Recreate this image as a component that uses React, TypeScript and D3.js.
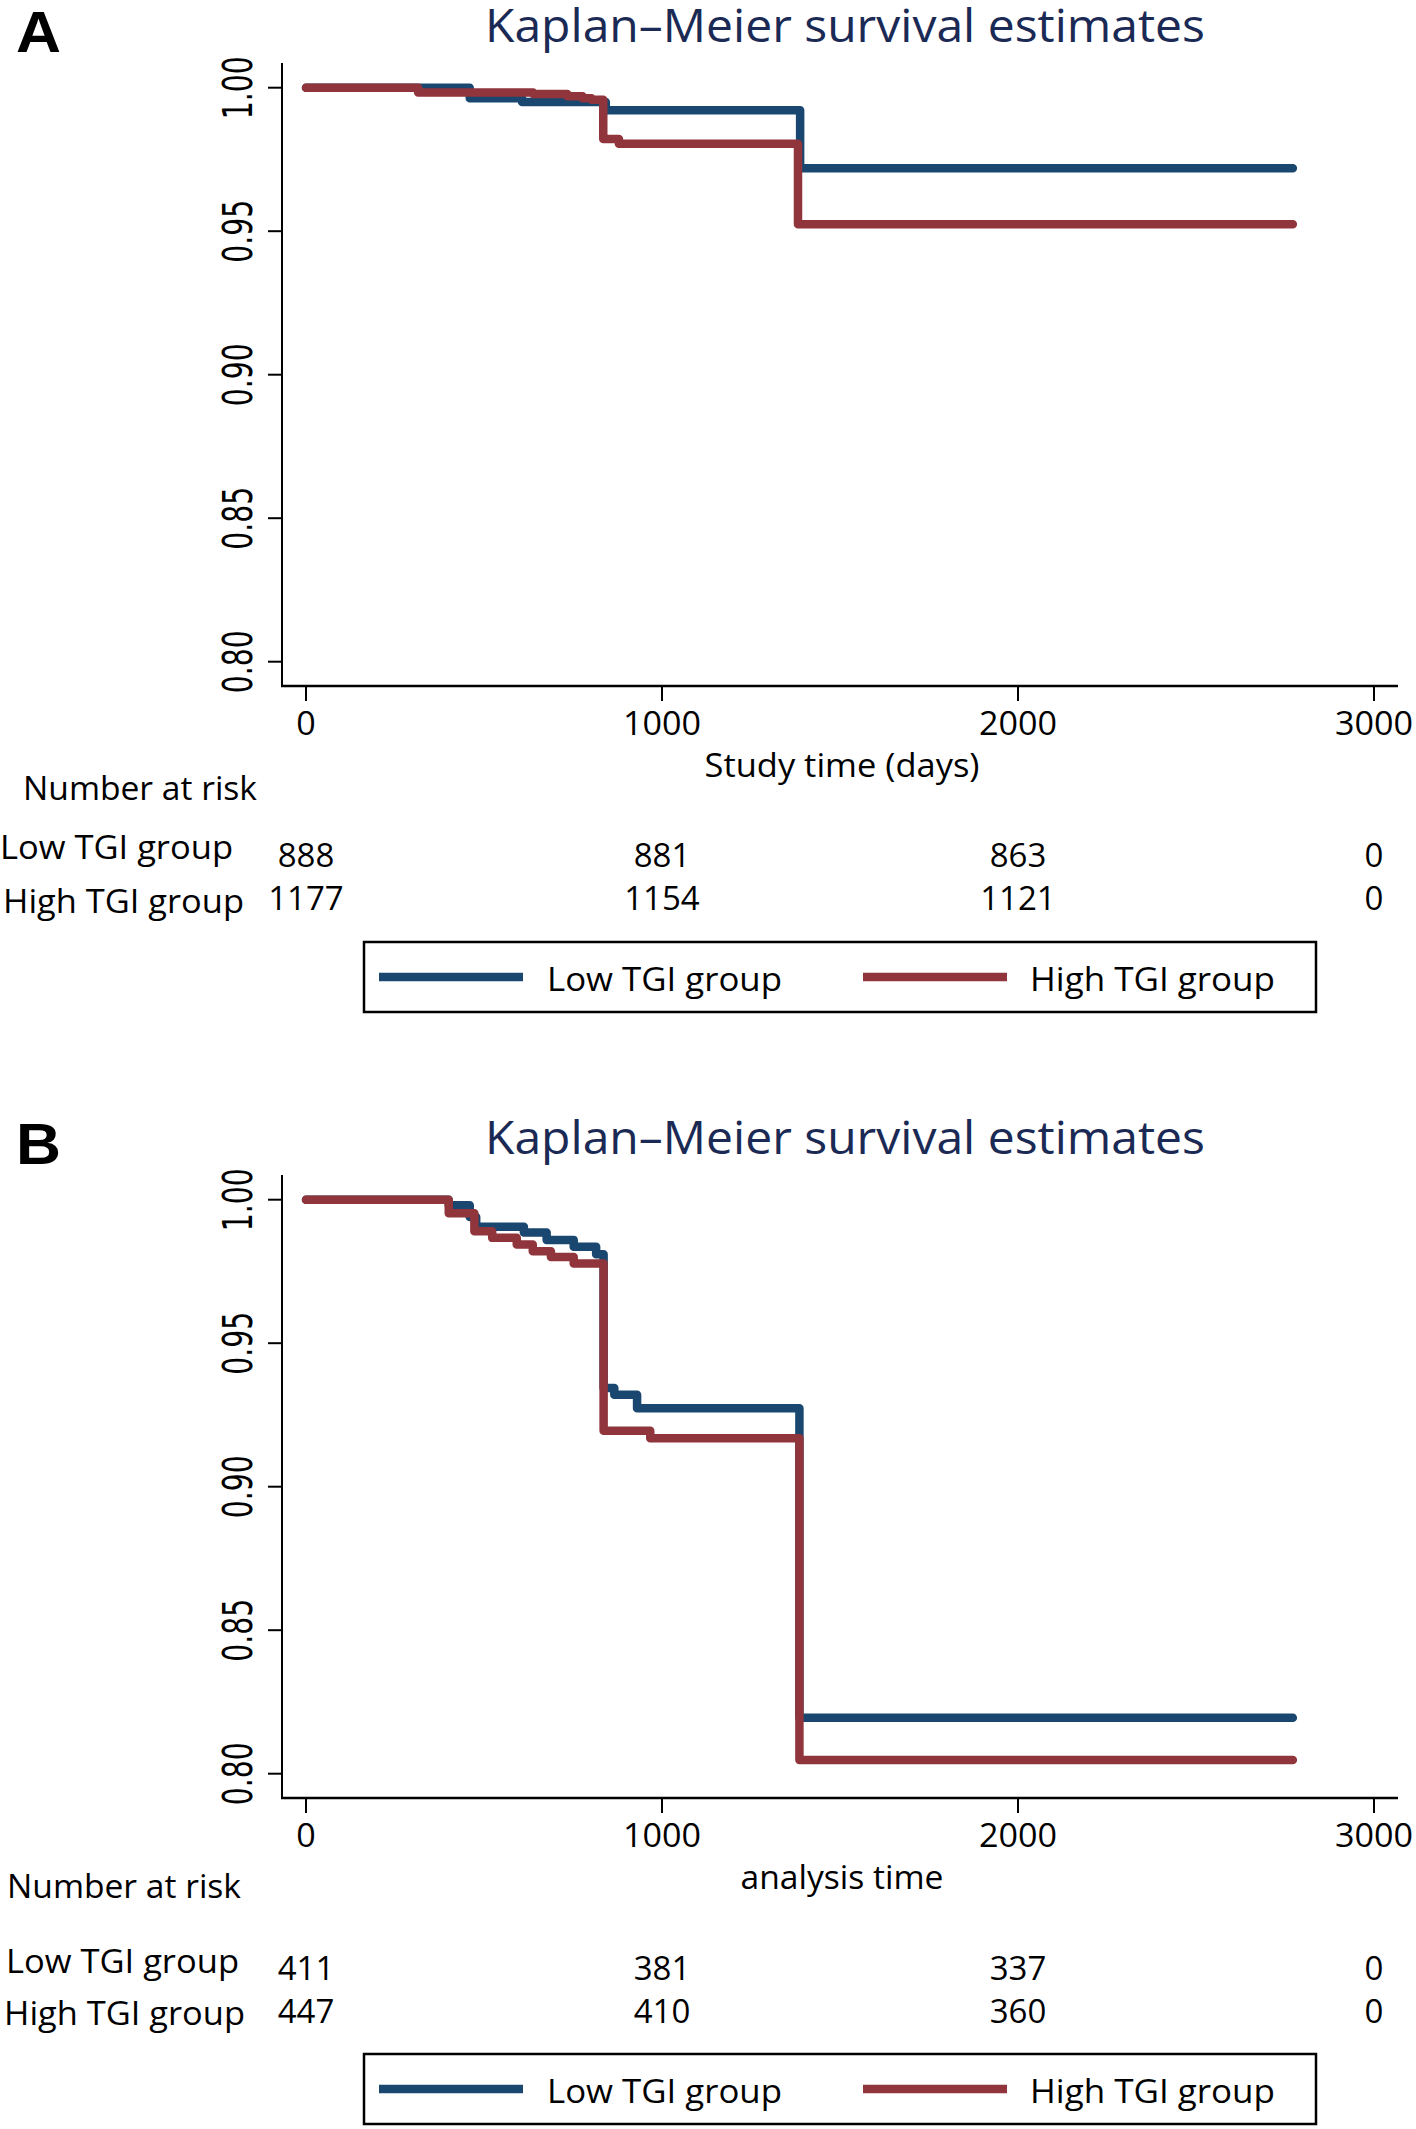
import React from "react";
import * as d3 from "d3";

// ---------- data ----------
const timeTicks = [0, 1000, 2000, 3000];
const survTicks = [0.8, 0.85, 0.9, 0.95, 1.0];
const groupNames = ["Low TGI group", "High TGI group"];

// Panel A
const aLowTime = [0, 460, 607, 842, 1388, 2772];
const aLowSurv = [1.0, 0.9963, 0.995, 0.9921, 0.9719, 0.9719];
const aHighTime = [0, 315, 638, 734, 777, 802, 835, 879, 1382, 2772];
const aHighSurv = [1.0, 0.9983, 0.9978, 0.997, 0.9963, 0.9958, 0.9821, 0.9805, 0.9524, 0.9524];
const aRiskLow = [888, 881, 863, 0];
const aRiskHigh = [1177, 1154, 1121, 0];

// Panel B
const bLowTime = [0, 401, 460, 478, 612, 676, 752, 815, 836, 866, 930, 1386, 2772];
const bLowSurv = [1.0, 0.9981, 0.994, 0.9906, 0.9886, 0.986, 0.9836, 0.981, 0.9344, 0.932, 0.9273, 0.8195, 0.8195];
const bHighTime = [0, 401, 473, 523, 592, 637, 688, 752, 836, 967, 1386, 2772];
const bHighSurv = [1.0, 0.9953, 0.989, 0.9867, 0.9844, 0.982, 0.98, 0.9778, 0.9195, 0.9169, 0.8048, 0.8048];
const bRiskLow = [411, 381, 337, 0];
const bRiskHigh = [447, 410, 360, 0];

const TITLE = "Kaplan\u2013Meier survival estimates";
const RISK_TITLE = "Number at risk";

const BLUE = "#1a476f";
const RED = "#90353b";
const NAVY = "#1b2a55";
const FONT = "'Open Sans', 'Noto Sans', sans-serif";

type PanelProps = {
  dy: number;
  letter: string;
  lowT: number[];
  lowS: number[];
  highT: number[];
  highS: number[];
  riskLow: number[];
  riskHigh: number[];
  xTitle: string;
  xTitleLen: number;
  riskTitleX: number;
  riskTitleY: number;
  lowLabelX: number;
  lowLabelY: number;
  lowLabelLen: number;
  lowNumY: number;
  highLabelX: number;
  highLabelY: number;
  highNumY: number;
};

function Panel(p: PanelProps) {
  const x = d3.scaleLinear().domain([0, 3000]).range([306, 1374]);
  const y = d3.scaleLinear().domain([0.8, 1.0]).range([661.7 + p.dy, 87.7 + p.dy]);
  const line = d3
    .line<[number, number]>()
    .x((d) => x(d[0]))
    .y((d) => y(d[1]))
    .curve(d3.curveStepAfter);
  const lowPts = p.lowT.map((t, i) => [t, p.lowS[i]] as [number, number]);
  const highPts = p.highT.map((t, i) => [t, p.highS[i]] as [number, number]);
  const axisLeft = 282;
  const axisRight = 1398;
  const axisTop = 63 + p.dy;
  const axisBottom = 686 + p.dy;

  return (
    <g>
      <text
        x={16}
        y={52 + p.dy}
        fontFamily="'Liberation Sans', Arial, sans-serif"
        fontWeight="bold"
        fontSize={58}
        textLength={45}
        lengthAdjust="spacingAndGlyphs"
        fill="#000"
      >
        {p.letter}
      </text>
      <text
        x={485}
        y={42 + p.dy}
        fontFamily={FONT}
        fontSize={46}
        textLength={720}
        lengthAdjust="spacingAndGlyphs"
        fill={NAVY}
      >
        {TITLE}
      </text>

      {/* axes */}
      <line x1={axisLeft} x2={axisLeft} y1={axisTop} y2={axisBottom + 1} stroke="#000" strokeWidth={2} />
      <line x1={axisLeft - 1} x2={axisRight} y1={axisBottom} y2={axisBottom} stroke="#000" strokeWidth={2.5} />
      {survTicks.map((s) => (
        <g key={"y" + s}>
          <line x1={axisLeft - 14} x2={axisLeft} y1={y(s)} y2={y(s)} stroke="#000" strokeWidth={2} />
          <text
            transform={`translate(252,${y(s)}) rotate(-90)`}
            textAnchor="middle"
            fontFamily="'DejaVu Sans', Verdana, sans-serif"
            fontSize={40}
            textLength={63}
            lengthAdjust="spacingAndGlyphs"
            fill="#000"
          >
            {s.toFixed(2)}
          </text>
        </g>
      ))}
      {timeTicks.map((t) => (
        <g key={"x" + t}>
          <line x1={x(t)} x2={x(t)} y1={axisBottom} y2={axisBottom + 15} stroke="#000" strokeWidth={2} />
          <text
            x={x(t)}
            y={735 + p.dy}
            textAnchor="middle"
            fontFamily={FONT}
            fontSize={32}
            textLength={String(t).length * 19.5}
            lengthAdjust="spacingAndGlyphs"
            fill="#000"
          >
            {t}
          </text>
        </g>
      ))}
      <text
        x={842}
        y={777 + p.dy}
        textAnchor="middle"
        fontFamily={FONT}
        fontSize={33}
        textLength={p.xTitleLen}
        lengthAdjust="spacingAndGlyphs"
        fill="#000"
      >
        {p.xTitle}
      </text>

      {/* curves */}
      <path d={line(lowPts) || ""} fill="none" stroke={BLUE} strokeWidth={8.5} strokeLinecap="round" strokeLinejoin="round" />
      <path d={line(highPts) || ""} fill="none" stroke={RED} strokeWidth={8.5} strokeLinecap="round" strokeLinejoin="round" />

      {/* number at risk */}
      <text
        x={p.riskTitleX}
        y={p.riskTitleY}
        fontFamily={FONT}
        fontSize={33}
        textLength={234}
        lengthAdjust="spacingAndGlyphs"
        fill="#000"
      >
        {RISK_TITLE}
      </text>
      <text
        x={p.lowLabelX}
        y={p.lowLabelY}
        fontFamily={FONT}
        fontSize={33}
        textLength={p.lowLabelLen}
        lengthAdjust="spacingAndGlyphs"
        fill="#000"
      >
        {groupNames[0]}
      </text>
      <text
        x={p.highLabelX}
        y={p.highLabelY}
        fontFamily={FONT}
        fontSize={33}
        textLength={241}
        lengthAdjust="spacingAndGlyphs"
        fill="#000"
      >
        {groupNames[1]}
      </text>
      {p.riskLow.map((n, i) => (
        <text key={"rl" + i} x={x(timeTicks[i])} y={p.lowNumY} textAnchor="middle" fontFamily={FONT} fontSize={33} fill="#000">
          {n}
        </text>
      ))}
      {p.riskHigh.map((n, i) => (
        <text key={"rh" + i} x={x(timeTicks[i])} y={p.highNumY} textAnchor="middle" fontFamily={FONT} fontSize={33} fill="#000">
          {n}
        </text>
      ))}

      {/* legend */}
      <rect x={364} y={942 + p.dy} width={952} height={70} fill="#fff" stroke="#000" strokeWidth={2.5} />
      <line x1={379} x2={523} y1={977 + p.dy} y2={977 + p.dy} stroke={BLUE} strokeWidth={8.5} />
      <text
        x={547}
        y={991 + p.dy}
        fontFamily={FONT}
        fontSize={33}
        textLength={235}
        lengthAdjust="spacingAndGlyphs"
        fill="#000"
      >
        {groupNames[0]}
      </text>
      <line x1={863} x2={1007} y1={977 + p.dy} y2={977 + p.dy} stroke={RED} strokeWidth={8.5} />
      <text
        x={1030}
        y={991 + p.dy}
        fontFamily={FONT}
        fontSize={33}
        textLength={245}
        lengthAdjust="spacingAndGlyphs"
        fill="#000"
      >
        {groupNames[1]}
      </text>
    </g>
  );
}

export default function App() {
  return (
    <svg
      width={1416}
      height={2129}
      viewBox="0 0 1416 2129"
      style={{ position: "absolute", left: 0, top: 0, background: "#fff" }}
    >
      <rect x={0} y={0} width={1416} height={2129} fill="#fff" />
      <Panel
        dy={0}
        letter="A"
        lowT={aLowTime}
        lowS={aLowSurv}
        highT={aHighTime}
        highS={aHighSurv}
        riskLow={aRiskLow}
        riskHigh={aRiskHigh}
        xTitle="Study time (days)"
        xTitleLen={275}
        riskTitleX={23}
        riskTitleY={800}
        lowLabelX={0}
        lowLabelY={859}
        lowLabelLen={233}
        lowNumY={867}
        highLabelX={3}
        highLabelY={913}
        highNumY={910}
      />
      <Panel
        dy={1112}
        letter="B"
        lowT={bLowTime}
        lowS={bLowSurv}
        highT={bHighTime}
        highS={bHighSurv}
        riskLow={bRiskLow}
        riskHigh={bRiskHigh}
        xTitle="analysis time"
        xTitleLen={203}
        riskTitleX={7}
        riskTitleY={1898}
        lowLabelX={6}
        lowLabelY={1973}
        lowLabelLen={233}
        lowNumY={1980}
        highLabelX={4}
        highLabelY={2025}
        highNumY={2023}
      />
    </svg>
  );
}
